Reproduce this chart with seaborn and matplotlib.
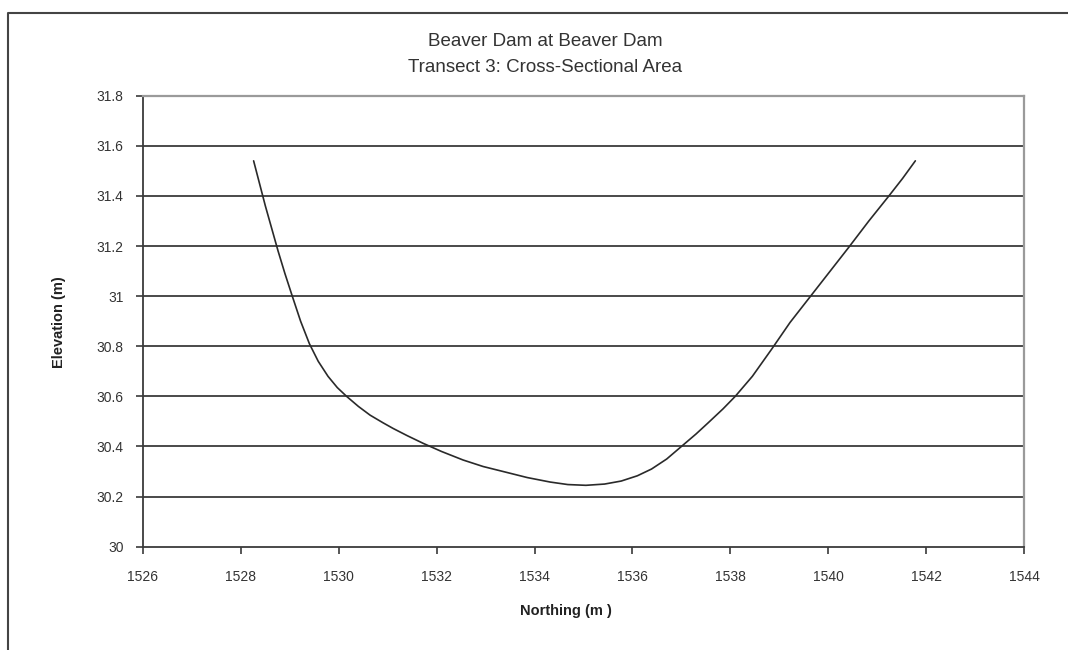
import matplotlib
matplotlib.use("Agg")
import matplotlib.pyplot as plt
import seaborn as sns
import pandas as pd
from matplotlib.lines import Line2D

# Data
northing = [1528.26, 1528.38, 1528.50, 1528.63, 1528.76, 1528.90, 1529.05, 1529.22,
            1529.40, 1529.58, 1529.78, 1529.97, 1530.16, 1530.40, 1530.64, 1530.90,
            1531.11, 1531.40, 1531.73, 1532.10, 1532.54, 1532.95, 1533.36, 1533.85,
            1534.32, 1534.68, 1535.05, 1535.43, 1535.77, 1536.10, 1536.39, 1536.70,
            1537.00, 1537.30, 1537.55, 1537.85, 1538.10, 1538.45, 1538.85, 1539.22,
            1539.60, 1540.00, 1540.42, 1540.83, 1541.24, 1541.52, 1541.78]
elevation = [31.54, 31.45, 31.36, 31.27, 31.18, 31.09, 31.00, 30.90,
             30.81, 30.74, 30.68, 30.635, 30.60, 30.56, 30.525, 30.495,
             30.472, 30.443, 30.412, 30.38, 30.346, 30.32, 30.30, 30.276,
             30.258, 30.248, 30.245, 30.25, 30.262, 30.283, 30.31, 30.35,
             30.40, 30.45, 30.495, 30.55, 30.60, 30.68, 30.79, 30.895,
             30.99, 31.09, 31.195, 31.30, 31.40, 31.47, 31.54]
x_ticks = [1526, 1528, 1530, 1532, 1534, 1536, 1538, 1540, 1542, 1544]
y_ticks = [30, 30.2, 30.4, 30.6, 30.8, 31, 31.2, 31.4, 31.6, 31.8]
y_tick_labels = ["30", "30.2", "30.4", "30.6", "30.8", "31", "31.2", "31.4", "31.6", "31.8"]
title_lines = ["Beaver Dam at Beaver Dam", "Transect 3: Cross-Sectional Area"]
x_label = "Northing (m )"
y_label = "Elevation (m)"

df = pd.DataFrame({"Northing": northing, "Elevation": elevation})

sns.set_theme(style="white")
fam = ["Liberation Sans", "DejaVu Sans"]
plt.rcParams["font.family"] = fam

fig = plt.figure(figsize=(10.68, 6.5), dpi=100)
fig.patch.set_facecolor("white")
ax = fig.add_axes([143/1068, 1-546.7/650, 881/1068, 451/650])

sns.lineplot(data=df, x="Northing", y="Elevation", sort=False, ax=ax,
             color="#2a2a2a", linewidth=1.2)

ax.set_xlim(1526, 1544)
ax.set_ylim(30, 31.8)
ax.set_xticks(x_ticks)
ax.set_xticklabels([str(t) for t in x_ticks])
ax.set_yticks(y_ticks)
ax.set_yticklabels(y_tick_labels)

for yv in y_ticks[1:-1]:
    ax.axhline(yv, color="#3a3a3a", linewidth=1.3, zorder=0)

for s in ["left", "bottom"]:
    ax.spines[s].set_color("#3a3a3a")
    ax.spines[s].set_linewidth(1.3)
for s in ["top", "right"]:
    ax.spines[s].set_color("#9a9a9a")
    ax.spines[s].set_linewidth(1.6)

ax.tick_params(axis="both", direction="out", length=5, width=1.2, color="#3a3a3a",
               labelsize=10, labelcolor="#333333")
ax.tick_params(axis="x", pad=12, bottom=True)
ax.tick_params(axis="y", pad=9, left=True)

ax.set_xlabel(x_label, fontsize=10.5, fontweight="bold", color="#222222")
ax.set_ylabel(y_label, fontsize=10.5, fontweight="bold", color="#222222")
ax.xaxis.set_label_coords((566-143)/881, (546.7-604)/451)
ax.yaxis.set_label_coords((66-143)/881, (546.7-322)/451)

fig.text(545/1068, 1-41/650, title_lines[0], ha="center", va="center",
         fontsize=13.5, color="#333333")
fig.text(545/1068, 1-68/650, title_lines[1], ha="center", va="center",
         fontsize=13.5, color="#333333")

# outer chart-area border (left and top edges visible in the reference)
fig.add_artist(Line2D([8/1068, 8/1068, 1.0], [0.0, 1-13/650, 1-13/650],
                      transform=fig.transFigure, color="#444444", linewidth=1.5))

fig.savefig("out.png", dpi=100, facecolor="white")
